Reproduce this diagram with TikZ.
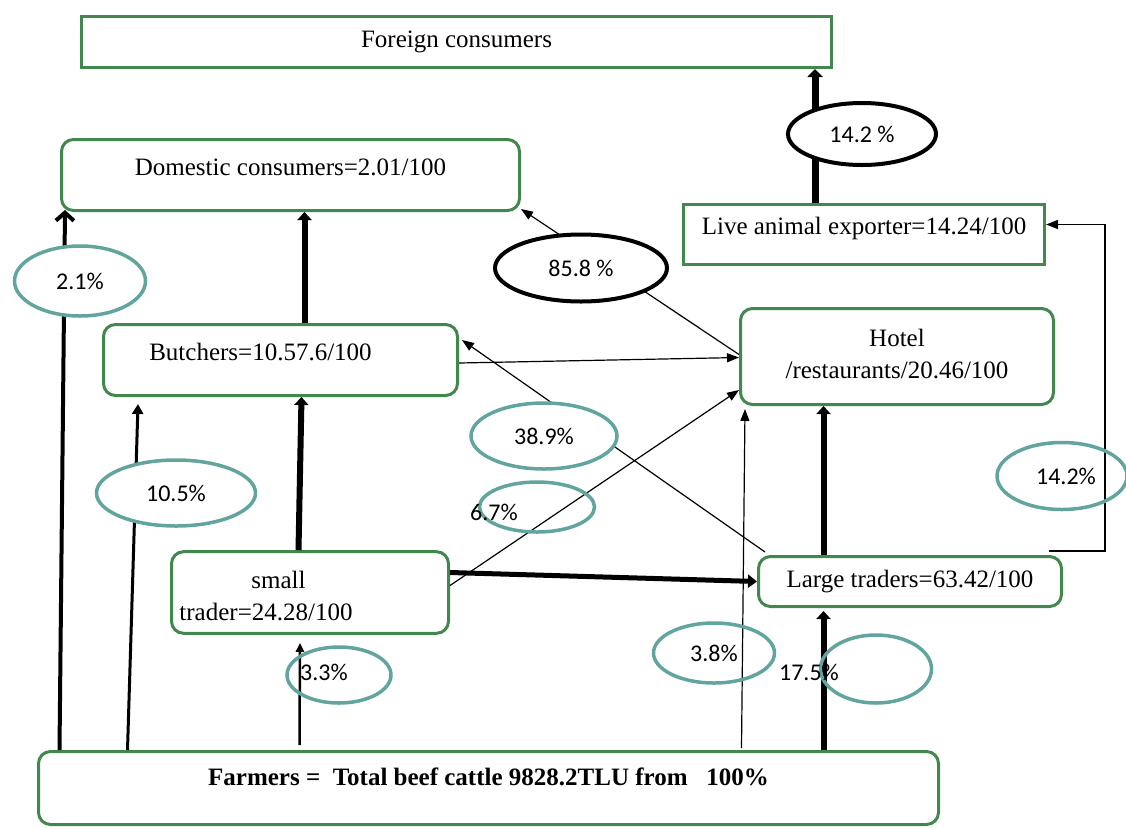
\documentclass[tikz,border=0pt]{standalone}
\usepackage{fontspec}
\setmainfont{Liberation Serif}
\newfontfamily\pctfont{Carlito}
\usepackage{xcolor}
\usepackage{tikz}
\usetikzlibrary{arrows.meta,shapes.geometric,positioning}
\definecolor{boxgreen}{RGB}{66,136,78}
\definecolor{ringteal}{RGB}{98,164,158}
\tikzset{greenrect/.style={
    % The shape:
    rectangle,inner sep=3pt,
    % The rest
    line width=3pt,draw=boxgreen,fill=white,
    font=\fontsize{25}{32}\selectfont
  },
  greenround/.style={greenrect,rounded corners=12pt},
  ring/.style={ellipse,inner sep=0pt,line width=3.5pt,draw=ringteal,
    font=\pctfont\fontsize{24}{28}\selectfont},
  blackring/.style={ring,draw=black,line width=4pt},
  pcttext/.style={inner sep=0pt,font=\pctfont\fontsize{24}{28}\selectfont},
  thinflow/.style={line width=1.2pt,-{Triangle[length=12pt,width=9pt]}},
  midflow/.style={line width=3pt,-{Triangle[length=10pt,width=11pt]}},
  fatflow/.style={line width=6pt,-{Triangle[length=8pt,width=14pt]}}
}

\begin{document}
\begin{tikzpicture}[x=1pt,y=-1pt]
      \useasboundingbox (0,0) rectangle (1126,828);

      \node (foreign) [greenrect, minimum width=750pt, minimum height=51pt]
        at (456.5,42) {Foreign consumers};
      \node (domestic) [greenround, minimum width=458pt, minimum height=71pt,
        text height=15pt, text depth=15pt]
        at (290.5,175) {Domestic consumers=2.01/100};
      \node (exporter) [greenrect, minimum width=361pt, minimum height=60pt,
        text height=15pt, text depth=15pt]
        at (864,234.5) {Live animal exporter=14.24/100};
      \node (hotel) [greenround, minimum width=313pt, minimum height=96pt]
        at (897,356.5) {
          \begin{tabular}{@{}c@{}}
            Hotel\\
            /restaurants/20.46/100
        \end{tabular}};
      \node (butcher) [greenround, minimum width=354pt, minimum height=71pt,
        text height=15pt, text depth=15pt]
        at (280.5,360) {Butchers=10.57.6/100\hspace*{40pt}};
      \node (small) [greenround, minimum width=277pt, minimum height=76pt]
        at (310,592.5) {
          \begin{tabular}{@{}l@{\hspace{88pt}}}
            \rule{0pt}{34pt}\hspace*{72pt}small\\
            trader=24.28/100
        \end{tabular}};
      \node (large) [greenround, minimum width=303pt, minimum height=50pt]
        at (910,581.5) {Large traders=63.42/100};
      \node (farmer) [greenround, minimum width=900pt, minimum height=73pt,
        text height=15pt, text depth=20pt, font=\fontsize{25}{32}\selectfont\bfseries]
        at (488.5,788) {Farmers =\ \ Total beef cattle 9828.2TLU from\ \ \ 100\%};

      % flows out of the farmers
      \path ([xshift=22.5pt]farmer.north west) edge[line width=4pt,-{Straight Barb[length=8pt,width=18pt]}]
        ([xshift=5pt,yshift=2pt]domestic.south west);
      \path ([xshift=90.5pt]farmer.north west) edge[midflow] ([xshift=36pt,yshift=-7pt]butcher.south west);
      \path ([xshift=262.5pt,yshift=5pt]farmer.north west) edge[line width=2.5pt,-{Triangle[length=9pt,width=8pt]}]
        ([xshift=130pt,yshift=-8pt]small.south west);
      \path ([xshift=704.5pt,yshift=2pt]farmer.north west) edge[thinflow] ([xshift=6pt,yshift=-3pt]hotel.south west);
      \path ([xshift=786.5pt]farmer.north west) edge[fatflow] ([xshift=66.5pt,yshift=-3pt]large.south west);

      % traders and butchers
      \path ([xshift=128.5pt]small.north west) edge[fatflow] ([xshift=199.5pt]butcher.south west);
      \path ([xshift=202.5pt]butcher.north west) edge[fatflow] ([xshift=244.5pt]domestic.south west);
      \path ([yshift=20pt]small.east) edge[line width=5pt,-{Triangle[length=9pt,width=13pt]}] (large.west);
      \path ([yshift=7pt]small.east) edge[thinflow] ([yshift=16pt]hotel.south west);
      \path ([xshift=66.5pt]large.north west) edge[fatflow] ([xshift=84.5pt]hotel.south west);
      \path ([xshift=8pt,yshift=3pt]large.north west) edge[thinflow] ([xshift=3pt,yshift=20pt]butcher.east);
      \path ([yshift=-3pt]butcher.east) edge[thinflow] ([yshift=-1pt]hotel.west);
      \path ([yshift=2pt]hotel.west) edge[thinflow] ([yshift=3pt]domestic.south east);
      \draw[thinflow] ([xshift=-14pt,yshift=4pt]large.north east) -- ++(56,0) |- ([yshift=10pt]exporter.east);
      \path ([xshift=133pt]exporter.north west) edge[line width=7pt,-{Triangle[length=8pt,width=15pt]}]
        ([xshift=735pt]foreign.south west);

      % shares
      \node (r21)  [ring, fill=white, minimum width=131pt, minimum height=70pt] at (80,281) {2.1\%};
      \node (r105) [ring, fill=white, minimum width=159pt, minimum height=66pt] at (176,493) {10.5\%};
      \node (r389) [ring, fill=white, minimum width=146pt, minimum height=66pt] at (544,436) {38.9\%};
      \node (r858) [blackring, fill=white, minimum width=172pt, minimum height=67pt] at (581,268) {85.8 \%};
      \node (r142) [blackring, fill=white, minimum width=148pt, minimum height=62pt] at (862,134) {14.2 \%};
      \node (r142b) [ring, minimum width=130pt, minimum height=67pt] at (1062,476) {\hspace*{8pt}14.2\%};
      \node (r67)  [ring, minimum width=115pt, minimum height=50pt] at (537,507) {};
      \node (t67)  [pcttext] at (494,512) {6.7\%};
      \node (r33)  [ring, minimum width=104pt, minimum height=56pt] at (339,675) {};
      \node (t33)  [pcttext] at (324,672) {3.3\%};
      \node (r38)  [ring, minimum width=121pt, minimum height=60pt] at (714,653) {\raisebox{-6pt}{3.8\%}};
      \node (r175) [ring, minimum width=111pt, minimum height=68pt] at (876,669) {};
      \node (t175) [pcttext] at (809,672) {17.5\%};
\end{tikzpicture}
\end{document}
